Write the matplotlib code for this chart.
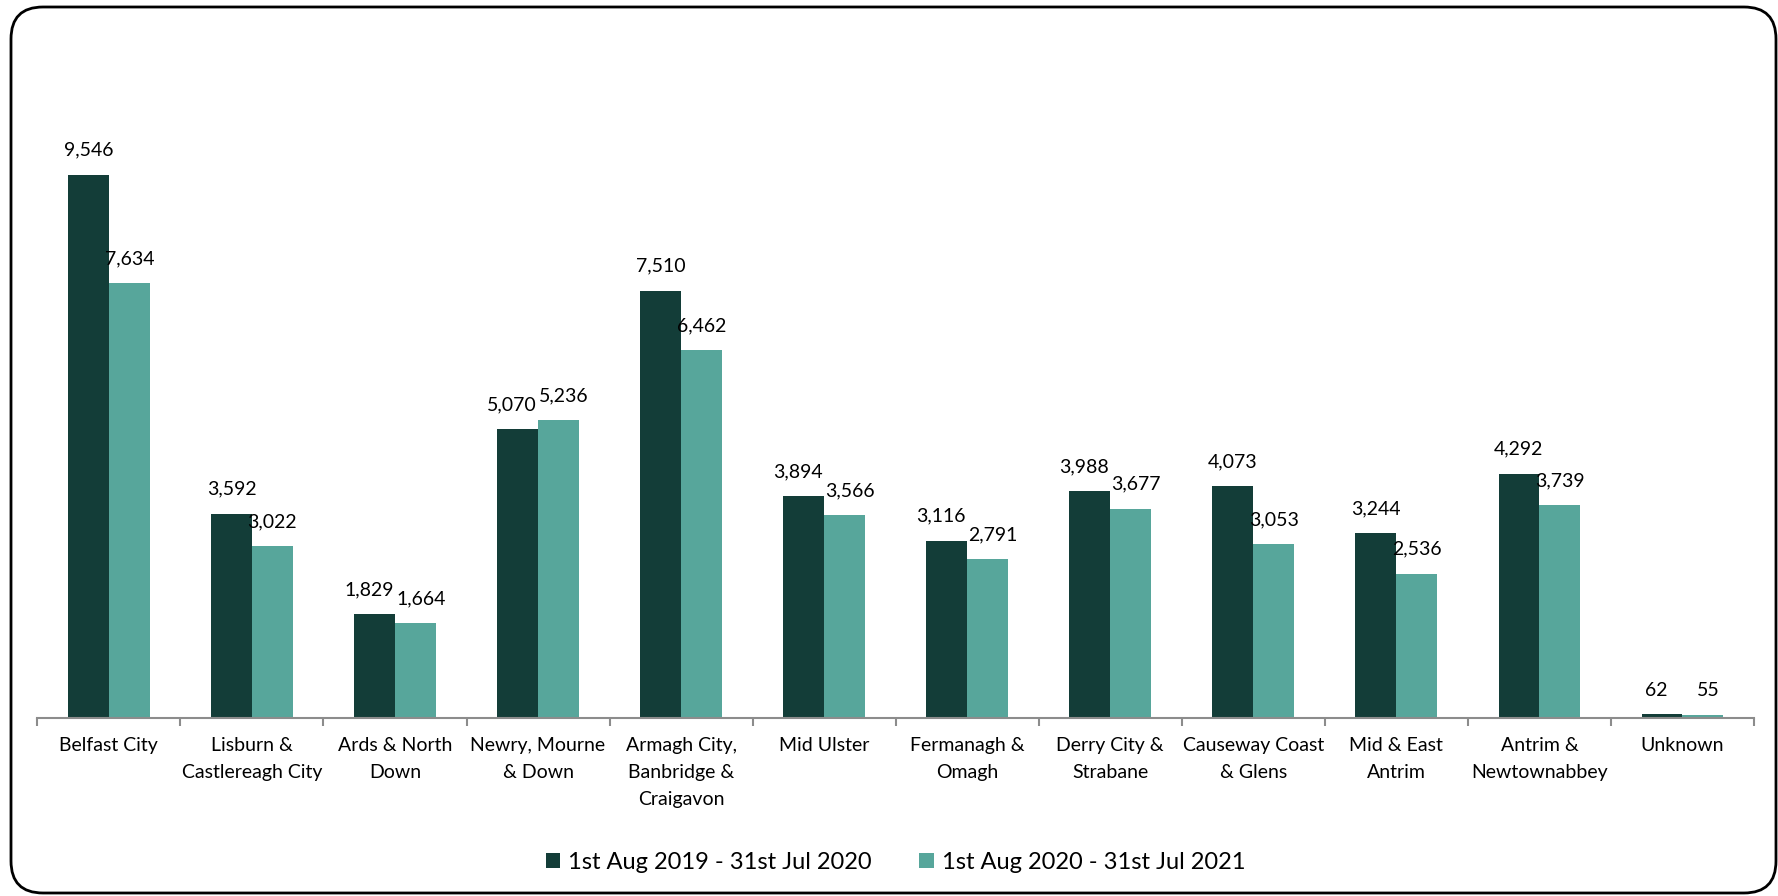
import matplotlib
matplotlib.use('Agg')
import matplotlib.pyplot as plt
from matplotlib.patches import FancyBboxPatch
from matplotlib.transforms import IdentityTransform
import numpy as np

plt.rcParams['font.family'] = ['Lato', 'DejaVu Sans']

areas = ['Belfast City', 'Lisburn &\nCastlereagh City', 'Ards & North\nDown',
         'Newry, Mourne\n& Down', 'Armagh City,\nBanbridge &\nCraigavon', 'Mid Ulster',
         'Fermanagh &\nOmagh', 'Derry City &\nStrabane', 'Causeway Coast\n& Glens',
         'Mid & East\nAntrim', 'Antrim &\nNewtownabbey', 'Unknown']
period_1 = [9546, 3592, 1829, 5070, 7510, 3894, 3116, 3988, 4073, 3244, 4292, 62]
period_2 = [7634, 3022, 1664, 5236, 6462, 3566, 2791, 3677, 3053, 2536, 3739, 55]
series_names = ['1st Aug 2019 - 31st Jul 2020', '1st Aug 2020 - 31st Jul 2021']

dark = '#133D38'
light = '#57A69B'

fig = plt.figure(figsize=(17.78, 8.96), dpi=100)
ax = fig.add_axes([0.021, 0.1987, 0.9655, 0.7623])

x = np.arange(len(areas))
w = 0.286
b1 = ax.bar(x - w / 2, period_1, w, color=dark, label=series_names[0])
b2 = ax.bar(x + w / 2, period_2, w, color=light, label=series_names[1])

# labels of a pair that sit at nearly the same height get pushed apart a bit
for i in range(len(areas)):
    close = abs(period_1[i] - period_2[i]) < 400
    nudge = 4 if close else 0
    for rect, v, dx in ((b1[i], period_1[i], -nudge), (b2[i], period_2[i], nudge)):
        ax.annotate(f'{v:,}', (rect.get_x() + rect.get_width() / 2, rect.get_height()),
                    xytext=(dx, 17.5), textcoords='offset points',
                    ha='center', va='center', fontsize=14, color='black')

ax.set_xlim(-0.5, len(areas) - 0.5)
ax.set_ylim(0, 12000)
ax.set_yticks([])
for s in ('left', 'right', 'top'):
    ax.spines[s].set_visible(False)
ax.spines['bottom'].set_color('#8c8c8c')
ax.spines['bottom'].set_linewidth(1.5)

ax.set_xticks(x)
ax.set_xticklabels(areas, fontsize=14, linespacing=1.7, va='top')
ax.tick_params(axis='x', which='major', length=0, pad=14)
ax.set_xticks(np.arange(-0.5, len(areas), 1.0), minor=True)
ax.tick_params(axis='x', which='minor', length=6, width=1.5, color='#8c8c8c')

ax.legend(loc='center', bbox_to_anchor=(0.5, -0.212), ncol=2, frameon=False,
          fontsize=17, handlelength=0.6, handleheight=0.6, handletextpad=0.35,
          columnspacing=2.0)

frame = FancyBboxPatch((11, 3), 1765, 886, boxstyle='round,pad=0,rounding_size=32',
                       transform=IdentityTransform(), facecolor='none',
                       edgecolor='black', linewidth=2, clip_on=False)
fig.patches.append(frame)

fig.savefig('out.png', dpi=100, facecolor='white')
plt.close(fig)
